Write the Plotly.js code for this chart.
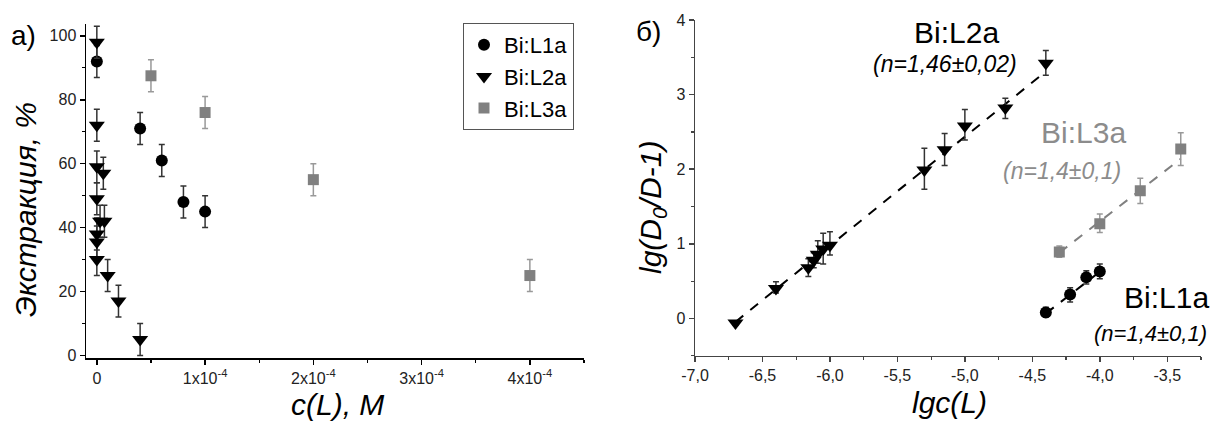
<!DOCTYPE html>
<html>
<head>
<meta charset="utf-8">
<script src="https://cdn.plot.ly/plotly-3.0.1.min.js"></script>
<style>
  html, body { margin: 0; padding: 0; background: #fff; }
  #chart { width: 1211px; height: 421px; }
</style>
</head>
<body>
<div id="chart"></div>
<script>
// ---- Panel а): extraction vs ligand concentration ----
const L1a_c = [0, 4e-5, 6e-5, 8e-5, 1e-4];
const L1a_E = [92, 71, 61, 48, 45];
const L1a_Eerr = [5, 5, 5, 5, 5];

const L2a_c = [0, 0, 0, 6e-6, 0, 3e-6, 7e-6, 0, 0, 0, 1e-5, 2e-5, 4e-5];
const L2a_E = [98, 72, 59, 57, 49, 42, 42, 38, 35.5, 30, 25, 17, 5];
const L2a_Eerr = [5, 5, 5, 5, 5, 5, 5, 5, 5, 5, 5, 5, 5];

const L3a_c = [5e-5, 1e-4, 2e-4, 4e-4];
const L3a_E = [87.5, 76, 55, 25];
const L3a_Eerr = [5, 5, 5, 5];

// ---- Panel б): lg(D0/D-1) vs lg c(L) ----
const L1a_lgc = [-4.4, -4.22, -4.1, -4.0];
const L1a_lgD = [0.08, 0.32, 0.55, 0.63];
const L1a_lgDup = [0.07, 0.09, 0.09, 0.10];
const L1a_lgDdn = [0.06, 0.10, 0.09, 0.10];

const L2a_lgc = [-6.7, -6.4, -6.16, -6.12, -6.09, -6.05, -6.0, -5.3, -5.15, -5.0, -4.7, -4.4];
const L2a_lgD = [-0.06, 0.40, 0.68, 0.78, 0.86, 0.93, 0.98, 1.99, 2.26, 2.58, 2.82, 3.42];
const L2a_lgDup = [0.03, 0.09, 0.12, 0.10, 0.18, 0.21, 0.18, 0.29, 0.22, 0.22, 0.13, 0.17];
const L2a_lgDdn = [0.03, 0.06, 0.12, 0.10, 0.12, 0.20, 0.13, 0.26, 0.21, 0.19, 0.14, 0.16];

const L3a_lgc = [-4.3, -4.0, -3.7, -3.4];
const L3a_lgD = [0.89, 1.27, 1.71, 2.27];
const L3a_lgDup = [0.08, 0.13, 0.17, 0.22];
const L3a_lgDdn = [0.07, 0.12, 0.17, 0.22];

// Linear fits: slope n (as labelled), intercept, x-extent
const fitNames = ['Bi:L1a', 'Bi:L2a', 'Bi:L3a'];
const fitSlope = [1.4, 1.46, 1.4];
const fitSlopeErr = ['0,1', '0,02', '0,1'];
const fitIntercept = [6.226, 9.735, 6.9];
const fitFrom = [-4.4, -6.7, -4.3];
const fitTo = [-4.0, -4.4, -3.4];

// Tick labels
const cTickVals = [0, 1e-4, 2e-4, 3e-4, 4e-4];
const cTickText = ['0', '1x10<sup>-4</sup>', '2x10<sup>-4</sup>', '3x10<sup>-4</sup>', '4x10<sup>-4</sup>'];
const lgTickVals = [-7, -6.5, -6, -5.5, -5, -4.5, -4, -3.5];
const lgTickText = ['-7,0', '-6,5', '-6,0', '-5,5', '-5,0', '-4,5', '-4,0', '-3,5'];

const W = 1211, H = 421;
const FONT = 'Arial, "Liberation Sans", sans-serif';
const BLACK = '#000000';
const GREY = '#808080';
const GREY_TXT = '#8c8c8c';

function errBars(plus, minus, color) {
  const e = {type: 'data', symmetric: !minus, array: plus, visible: true,
             color: color, thickness: 1.5, width: 3};
  if (minus) e.arrayminus = minus;
  return e;
}

const traces = [
  {x: L1a_c, y: L1a_E, name: 'Bi:L1a', type: 'scatter', mode: 'markers',
   marker: {symbol: 'circle', size: 12, color: BLACK},
   error_y: errBars(L1a_Eerr, null, '#333'), xaxis: 'x', yaxis: 'y'},
  {x: L2a_c, y: L2a_E, name: 'Bi:L2a', type: 'scatter', mode: 'markers',
   marker: {symbol: 'triangle-down', size: 14, color: BLACK},
   error_y: errBars(L2a_Eerr, null, '#333'), xaxis: 'x', yaxis: 'y'},
  {x: L3a_c, y: L3a_E, name: 'Bi:L3a', type: 'scatter', mode: 'markers',
   marker: {symbol: 'square', size: 11, color: GREY},
   error_y: errBars(L3a_Eerr, null, '#999'), xaxis: 'x', yaxis: 'y'}
];

// Fit lines in panel б)
const fitColors = [BLACK, BLACK, GREY];
for (let i = 0; i < fitNames.length; i++) {
  const xs = [fitFrom[i], fitTo[i]];
  traces.push({
    x: xs, y: xs.map(v => fitSlope[i] * v + fitIntercept[i]),
    type: 'scatter', mode: 'lines', showlegend: false, hoverinfo: 'skip',
    line: {color: fitColors[i], width: 2, dash: '10px,9px'},
    xaxis: 'x2', yaxis: 'y2'
  });
}

traces.push(
  {x: L1a_lgc, y: L1a_lgD, type: 'scatter', mode: 'markers', showlegend: false,
   marker: {symbol: 'circle', size: 12, color: BLACK},
   error_y: errBars(L1a_lgDup, L1a_lgDdn, '#333'), xaxis: 'x2', yaxis: 'y2'},
  {x: L2a_lgc, y: L2a_lgD, type: 'scatter', mode: 'markers', showlegend: false,
   marker: {symbol: 'triangle-down', size: 14, color: BLACK},
   error_y: errBars(L2a_lgDup, L2a_lgDdn, '#333'), xaxis: 'x2', yaxis: 'y2'},
  {x: L3a_lgc, y: L3a_lgD, type: 'scatter', mode: 'markers', showlegend: false,
   marker: {symbol: 'square', size: 11, color: GREY},
   error_y: errBars(L3a_lgDup, L3a_lgDdn, '#999'), xaxis: 'x2', yaxis: 'y2'}
);

const tickFont = {family: FONT, size: 16, color: '#222'};
function axisBase(lineColor) {
  return {
    showline: true, linecolor: lineColor, linewidth: 1.5, mirror: false,
    showgrid: false, zeroline: false,
    ticks: 'outside', ticklen: 5, tickwidth: 1.5, tickcolor: lineColor,
    tickfont: tickFont, fixedrange: true
  };
}

// pixel -> paper coordinates
const P = (px, py) => ({x: px / W, y: 1 - py / H});

function ann(text, px, py, opts) {
  const p = P(px, py);
  return Object.assign({
    text: text, x: p.x, y: p.y, xref: 'paper', yref: 'paper',
    showarrow: false, xanchor: 'center', yanchor: 'middle',
    font: {family: FONT, size: 30, color: BLACK}
  }, opts || {});
}

const nLabel = i => '<i>(n=' + String(fitSlope[i]).replace('.', ',') + '±' + fitSlopeErr[i] + ')</i>';

const layout = {
  width: W, height: H,
  margin: {l: 0, r: 0, t: 0, b: 0},
  paper_bgcolor: '#fff', plot_bgcolor: '#fff',
  font: {family: FONT, color: BLACK},
  showlegend: true,
  legend: {
    x: 463 / W, y: 1 - 23 / H, xanchor: 'left', yanchor: 'top',
    bordercolor: '#555', borderwidth: 1, bgcolor: '#fff',
    font: {family: FONT, size: 22, color: BLACK},
    tracegroupgap: 0, itemwidth: 30
  },
  xaxis: Object.assign(axisBase(BLACK), {
    domain: [86 / W, 584 / W], range: [-1e-5, 4.5e-4], anchor: 'y',
    tickmode: 'array', tickvals: cTickVals, ticktext: cTickText,
    minor: {tickmode: 'linear', tick0: 0, dtick: 5e-5, ticks: 'outside', ticklen: 3, tickwidth: 1.2, tickcolor: BLACK}
  }),
  yaxis: Object.assign(axisBase(BLACK), {
    domain: [1 - 358 / H, 1 - 24 / H], range: [-0.8, 103.7], anchor: 'x',
    tickmode: 'linear', tick0: 0, dtick: 20,
    minor: {tickmode: 'linear', tick0: 0, dtick: 10, ticks: 'outside', ticklen: 3, tickwidth: 1.2, tickcolor: BLACK}
  }),
  xaxis2: Object.assign(axisBase('#444'), {
    domain: [695 / W, 1201 / W], range: [-7, -3.25], anchor: 'y2',
    tickmode: 'array', tickvals: lgTickVals, ticktext: lgTickText,
    minor: {tickmode: 'linear', tick0: -7, dtick: 0.25, ticks: 'outside', ticklen: 3, tickwidth: 1.2, tickcolor: '#444'}
  }),
  yaxis2: Object.assign(axisBase('#444'), {
    domain: [1 - 355.7 / H, 1 - 20 / H], range: [-0.5, 4], anchor: 'x2',
    tickmode: 'array', tickvals: [0, 1, 2, 3, 4],
    minor: {tickmode: 'linear', tick0: -0.5, dtick: 0.5, ticks: 'outside', ticklen: 3, tickwidth: 1.2, tickcolor: '#444'}
  }),
  annotations: [
    ann('а)', 23, 35, {font: {family: FONT, size: 28, color: BLACK}}),
    ann('б)', 648, 31, {font: {family: FONT, size: 28, color: BLACK}}),
    ann('<i>Экстракция, %</i>', 25, 210, {textangle: -90}),
    ann('<i>c(L), M</i>', 337, 404),
    ann('<i>lg(D<sub>0</sub>/D-1)</i>', 652, 208, {textangle: -90}),
    ann('<i>lgc(L)</i>', 949, 402),
    ann(fitNames[1], 957, 32, {font: {family: FONT, size: 30, color: BLACK}}),
    ann(nLabel(1), 945, 64, {font: {family: FONT, size: 23, color: BLACK}}),
    ann(fitNames[2], 1083, 133, {font: {family: FONT, size: 30, color: GREY_TXT}}),
    ann(nLabel(2), 1062, 171, {font: {family: FONT, size: 23, color: GREY_TXT}}),
    ann(fitNames[0], 1122, 297, {xanchor: 'left', font: {family: FONT, size: 30, color: BLACK}}),
    ann(nLabel(0), 1092, 333, {xanchor: 'left', font: {family: FONT, size: 22, color: BLACK}})
  ]
};

Plotly.newPlot('chart', traces, layout, {staticPlot: true, displayModeBar: false});
</script>
</body>
</html>
